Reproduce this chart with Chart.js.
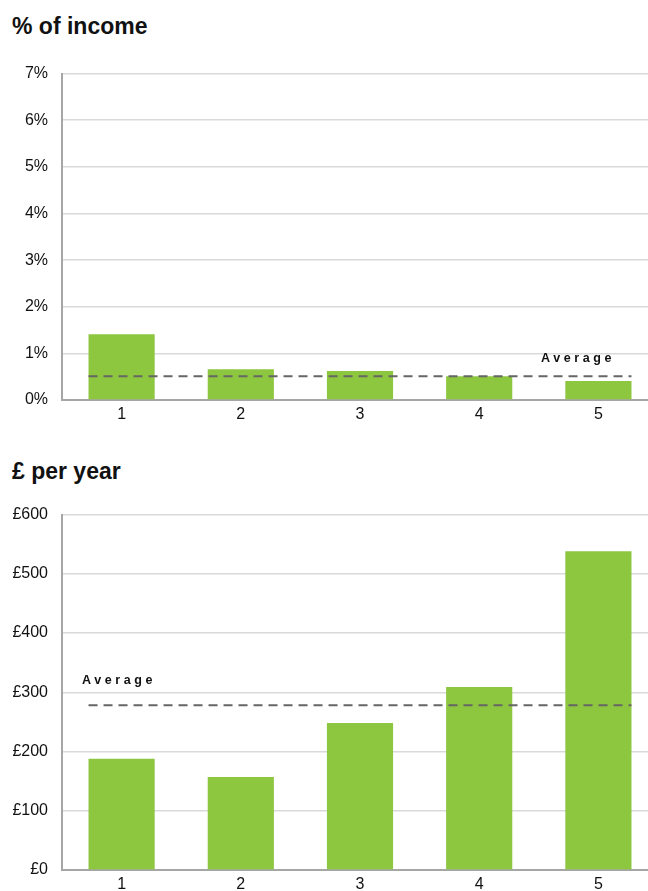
<!DOCTYPE html>
<html>
<head>
<meta charset="utf-8">
<script src="https://cdn.jsdelivr.net/npm/chart.js@4"></script>
<style>
  html, body { margin: 0; padding: 0; background: #fff; overflow: hidden; }
  body { width: 648px; height: 891px; position: relative; font-family: "Liberation Sans", Arial, sans-serif; }
  .title { position: absolute; left: 12px; font-weight: bold; font-size: 23px; line-height: 1; color: #111; }
  .box { position: absolute; left: 0; width: 658px; }
</style>
</head>
<body>
<div class="title" style="top:15px">% of income</div>
<div class="box" style="top:50px;height:380px"><canvas id="pctChart"></canvas></div>
<div class="title" style="top:460px">£ per year</div>
<div class="box" style="top:491px;height:409px"><canvas id="gbpChart"></canvas></div>
<script>
  const categories = ['1', '2', '3', '4', '5'];
  const pctValues = [1.41, 0.66, 0.62, 0.51, 0.41];
  const pctAverage = 0.51;
  const gbpValues = [188, 157, 248, 309, 538];
  const gbpAverage = 278;

  const averageLine = {
    id: 'averageLine',
    afterDatasetsDraw(chart, args, opts) {
      const { ctx, scales } = chart;
      const bars = chart.getDatasetMeta(0).data;
      const first = bars[0], last = bars[bars.length - 1];
      const y = scales.y.getPixelForValue(opts.value);
      ctx.save();
      ctx.strokeStyle = '#666';
      ctx.lineWidth = 2;
      ctx.setLineDash([9, 6]);
      ctx.beginPath();
      ctx.moveTo(first.x - first.width / 2, y);
      ctx.lineTo(last.x + last.width / 2, y);
      ctx.stroke();
      ctx.setLineDash([]);
      ctx.fillStyle = '#111';
      ctx.font = 'bold 12.5px "Liberation Sans", Arial, sans-serif';
      ctx.letterSpacing = '3.6px';
      ctx.textBaseline = 'middle';
      const x = opts.side === 'right' ? 541 : chart.chartArea.left + 20;
      ctx.fillText('Average', x, y + opts.labelOffset);
      ctx.restore();
    }
  };

  function makeChart(id, values, avg, max, step, fmt, side, labelOffset) {
    return new Chart(document.getElementById(id), {
      type: 'bar',
      data: {
        labels: categories,
        datasets: [{
          data: values,
          backgroundColor: '#8dc63f',
          categoryPercentage: 0.555,
          barPercentage: 1
        }]
      },
      options: {
        responsive: true,
        maintainAspectRatio: false,
        animation: false,
        layout: { padding: { top: 13, right: 0, left: 0, bottom: 0 } },
        plugins: {
          legend: { display: false },
          tooltip: { enabled: false },
          averageLine: { value: avg, side: side, labelOffset: labelOffset }
        },
        scales: {
          x: {
            grid: { display: false, drawTicks: false },
            border: { color: '#a6a6a6', width: 2 },
            ticks: { color: '#111', font: { size: 16, family: '"Liberation Sans", Arial' }, padding: 5 },
            afterFit: s => { s.height = 30; }
          },
          y: {
            min: 0,
            max: max,
            grid: { color: '#d9d9d9', lineWidth: 1.5, drawTicks: false },
            border: { color: '#a6a6a6', width: 2 },
            ticks: {
              stepSize: step,
              color: '#111',
              padding: 14,
              font: { size: 16, family: '"Liberation Sans", Arial' },
              callback: fmt
            },
            afterFit: s => { s.width = 62; }
          }
        }
      },
      plugins: [averageLine]
    });
  }

  makeChart('pctChart', pctValues, pctAverage, 7, 1, v => v + '%', 'right', -18);
  makeChart('gbpChart', gbpValues, gbpAverage, 600, 100, v => '£' + v, 'left', -25);
</script>
</body>
</html>
